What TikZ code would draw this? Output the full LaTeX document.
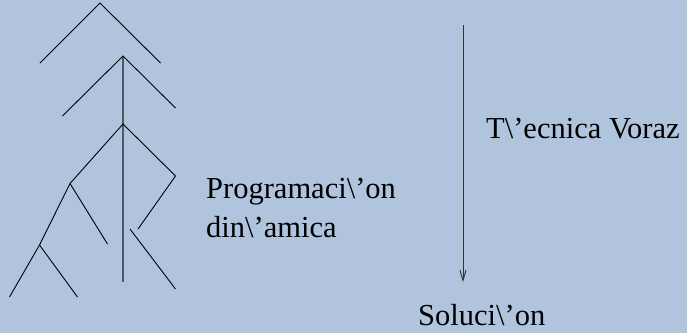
\documentclass[tikz,border=0pt]{standalone}
\usepackage{fontspec}
\setmainfont{Liberation Serif}
\usetikzlibrary{arrows.meta}
\definecolor{bgblue}{RGB}{176,196,222}
\definecolor{trunkgray}{RGB}{80,88,102}
\tikzset{
  branch/.style={draw=black, line width=0.9pt},
  trunk/.style={draw=trunkgray, line width=1.6pt},
  label/.style={anchor=base west, inner sep=0pt, font=\fontsize{30.5pt}{39pt}\selectfont, align=left},
  arrowline/.style={draw=black!80, line width=1pt, -{Straight Barb[length=10pt,width=6pt]}}
}
\begin{document}
\begin{tikzpicture}[x=1pt,y=-1pt]
\fill[bgblue] (0,0) rectangle (687,333);
\useasboundingbox (0,0) rectangle (687,333);
% coordinates
\coordinate (A0) at (100,3);
\coordinate (L0) at (40,63);
\coordinate (R0) at (160.5,63);
\coordinate (A1) at (123,56);
\coordinate (L1) at (62.5,116);
\coordinate (R1) at (175.5,108);
\coordinate (T1) at (123,282);
\coordinate (A2) at (123,124);
\coordinate (R2) at (175.5,176);
\coordinate (R2b) at (138,229);
\coordinate (B) at (70,183.5);
\coordinate (B1) at (107.5,244);
\coordinate (C) at (39.5,245);
\coordinate (C1) at (9.5,297);
\coordinate (C2) at (77.5,297);
\coordinate (D) at (130,229);
\coordinate (D1) at (175.5,289);
\coordinate (S) at (463,25);
\coordinate (E) at (463,282);
% tree
\draw[trunk] (A1) -- (T1);
\draw[branch] (L0) -- (A0) -- (R0);
\draw[branch] (L1) -- (A1) -- (R1);
\draw[branch] (R2b) -- (R2) -- (A2) -- (B) -- (C) -- (C1);
\draw[branch] (B) -- (B1);
\draw[branch] (C) -- (C2);
\draw[branch] (D) -- (D1);
% arrow
\draw[arrowline] (S) -- (E);
% labels
\node[label] (prog) at (206,237) {Programaci\textbackslash'on\\din\textbackslash'amica};
\node[label] (voraz) at (486,138) {T\textbackslash'ecnica Voraz};
\node[label] (sol) at (418,325) {Soluci\textbackslash'on};
\end{tikzpicture}
\end{document}
